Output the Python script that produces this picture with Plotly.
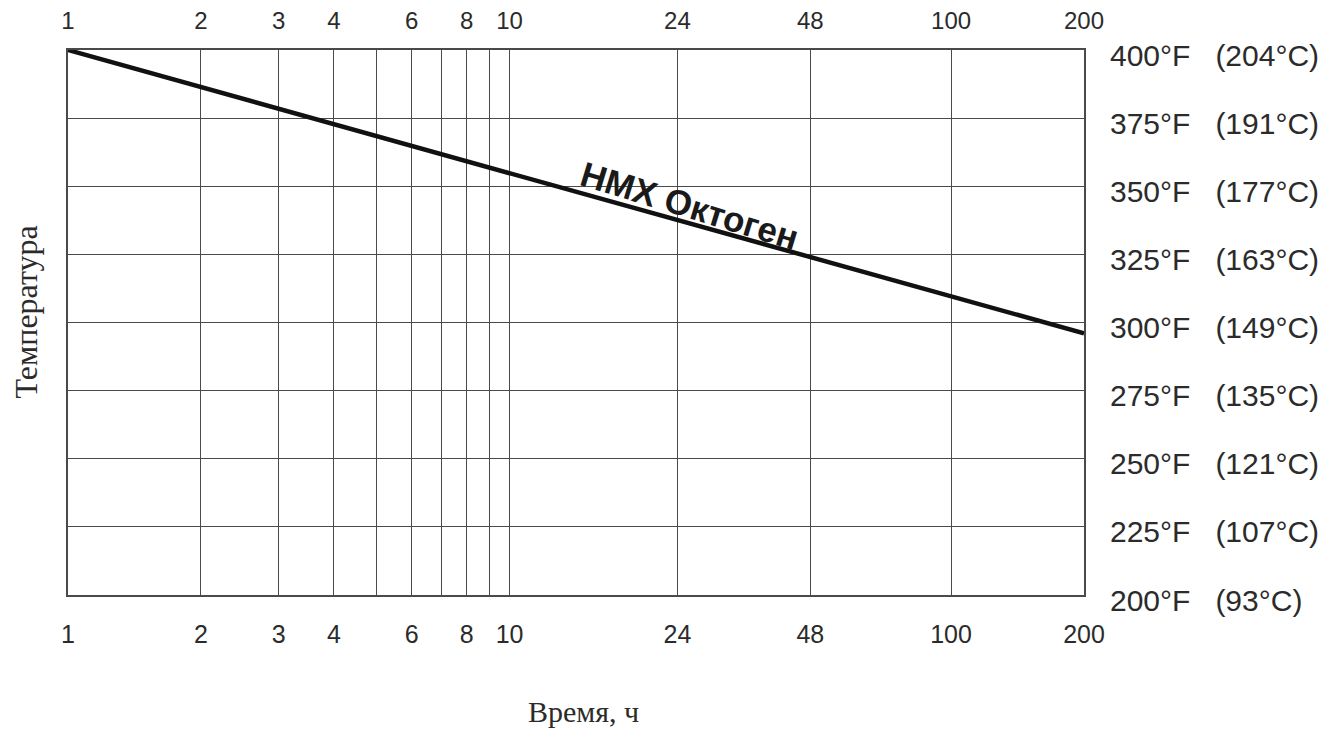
import plotly.graph_objects as go
import math

# ---- data ----
hours = [1, 200]
temp_f = [400, 296]
series_name = "HMX Октоген"

x_grid_vals = [1, 2, 3, 4, 5, 6, 7, 8, 9, 10, 24, 48, 100, 200]
x_tick_text = ["1", "2", "3", "4", "", "6", "", "8", "", "10", "24", "48", "100", "200"]
y_vals = [400, 375, 350, 325, 300, 275, 250, 225, 200]
y_f = ["400°F", "375°F", "350°F", "325°F", "300°F", "275°F", "250°F", "225°F", "200°F"]
y_c = ["(204°C)", "(191°C)", "(177°C)", "(163°C)", "(149°C)", "(135°C)", "(121°C)", "(107°C)", "(93°C)"]
x_title = "Время, ч"
y_title = "Температура"

GRID = "#4a4a4a"
TXT = "#2b2b2b"
SANS = "Liberation Sans, Arial, sans-serif"
SERIF = "Liberation Serif, Times New Roman, serif"

W, H = 1330, 725
L, T, R, B = 60, 42, 254, 138
PW, PH = W - L - R, H - T - B

fig = go.Figure()
fig.add_trace(go.Scatter(x=hours, y=temp_f, mode="lines",
                         line=dict(color="#111111", width=4.5),
                         showlegend=False, hoverinfo="skip"))
# invisible trace to activate the top axis
fig.add_trace(go.Scatter(x=hours, y=temp_f, mode="lines", xaxis="x2",
                         line=dict(color="rgba(0,0,0,0)", width=0),
                         showlegend=False, hoverinfo="skip"))

xr = [0, math.log10(200)]
fig.update_layout(
    template="none",
    width=W, height=H,
    margin=dict(l=L, r=R, t=T, b=B, autoexpand=False),
    paper_bgcolor="white", plot_bgcolor="white",
    xaxis=dict(type="log", range=xr, tickvals=x_grid_vals, ticktext=x_tick_text,
               showgrid=True, gridcolor=GRID, gridwidth=1.3, automargin=False,
               showline=True, linecolor=GRID, linewidth=1.5, mirror=True,
               ticks="outside", ticklen=16, tickcolor="rgba(0,0,0,0)",
               tickfont=dict(family=SANS, size=25, color=TXT), zeroline=False),
    xaxis2=dict(type="log", range=xr, overlaying="x", side="top", automargin=False,
                tickvals=x_grid_vals, ticktext=x_tick_text, showgrid=False,
                ticks="outside", ticklen=10, tickcolor="rgba(0,0,0,0)",
                tickfont=dict(family=SANS, size=24, color=TXT), zeroline=False),
    yaxis=dict(range=[200, 400], tickvals=y_vals, showticklabels=False, automargin=False,
               showgrid=True, gridcolor=GRID, gridwidth=1.3,
               showline=True, linecolor=GRID, linewidth=1.5, mirror=True,
               ticks="", zeroline=False),
)

for v, f, c in zip(y_vals, y_f, y_c):
    fig.add_annotation(x=1, xref="paper", y=v, yref="y",
                       text=f + "\u00a0\u00a0\u00a0" + c, showarrow=False,
                       xanchor="left", yanchor="middle", xshift=24, yshift=-5,
                       font=dict(family=SANS, size=30, color=TXT))

# series label along the line
fig.add_annotation(x=math.log10(25.6), y=343, xref="x", yref="y",
                   text="<b>" + series_name + "</b>",
                   showarrow=False, textangle=17,
                   font=dict(family=SANS, size=35, color="#1a1a1a"))

fig.add_annotation(x=(583 - 8 - L) / PW, xref="paper", y=-(711 - 8 - (T + PH)) / PH, yref="paper",
                   text=x_title, showarrow=False, xanchor="center", yanchor="middle",
                   font=dict(family=SERIF, size=30, color=TXT))

fig.add_annotation(x=-(L - (25 - 8)) / PW, xref="paper", y=0.5 + 10 / PH, yref="paper", text=y_title,
                   showarrow=False, textangle=-90, xanchor="center", yanchor="middle",
                   font=dict(family=SERIF, size=32, color=TXT))

fig.write_html("out.html")
